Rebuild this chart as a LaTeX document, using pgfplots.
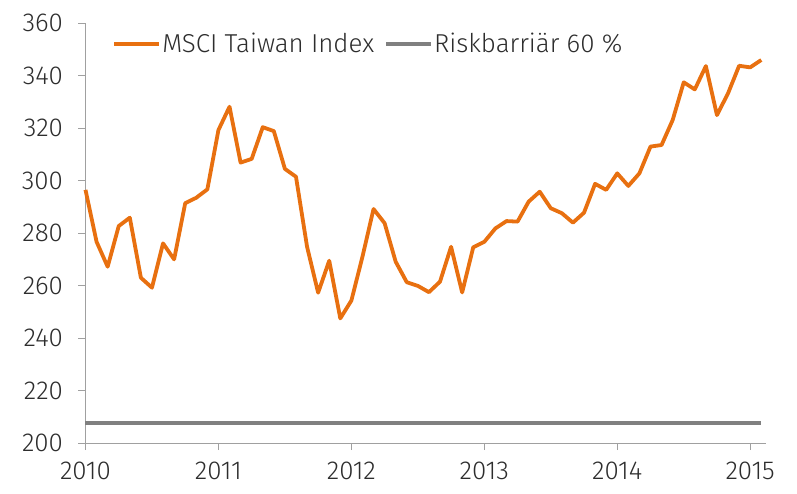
\documentclass[border=0pt]{standalone}
\usepackage{fontspec}
\setmainfont{Fira Sans Light}
\usepackage{pgfplots}
\pgfplotsset{compat=1.18}
\definecolor{msci}{RGB}{232,112,16}
\definecolor{barr}{RGB}{128,128,128}
\definecolor{axisgray}{RGB}{160,160,160}
\definecolor{txt}{RGB}{45,45,45}
\begin{document}
\begin{tikzpicture}
\begin{axis}[
  scale only axis,
  width=680.2bp, height=419.7bp,
  xmin=0, xmax=61.4,
  ymin=200, ymax=360,
  ytick={200,220,...,360},
  xtick={0,12,24,36,48,60},
  xticklabels={2010,2011,2012,2013,2014,2015},
  axis x line*=bottom, axis y line*=left,
  axis line style={axisgray, line width=0.8bp, -},
  tick style={axisgray, line width=0.8bp},
  tick align=outside,
  major tick length=7bp,
  /pgf/number format/assume math mode=true,
  /pgf/number format/1000 sep={},
  tick label style={font=\fontsize{26}{30}\selectfont, text=txt},
  yticklabel style={xshift=-12bp},
  xticklabel style={yshift=-8bp},
  legend style={draw=none, fill=none, at={(0.035,0.951)}, anchor=west,
    font=\fontsize{26}{30}\selectfont, text=txt,
    nodes={inner sep=1bp},
    /tikz/every even column/.append style={column sep=9bp}},
  legend columns=-1,
  legend image code/.code={\draw[#1] (0bp,0bp) -- (45bp,0bp);},
  clip=false,
]
\addplot[msci, line width=3.8bp, line join=round] coordinates {
(0,296.5)(1,276.7)(2,267.2)(3,282.7)(4,285.9)(5,263.0)(6,259.2)(7,276.1)(8,270.0)(9,291.4)
(10,293.5)(11,296.7)(12,319.3)(13,328.2)(14,306.9)(15,308.3)(16,320.4)(17,318.9)(18,304.5)(19,301.5)
(20,274.8)(21,257.3)(22,269.5)(23,247.5)(24,254.3)(25,271.0)(26,289.2)(27,283.8)(28,269.1)(29,261.3)
(30,259.9)(31,257.5)(32,261.5)(33,274.8)(34,257.4)(35,274.6)(36,276.7)(37,281.8)(38,284.6)(39,284.4)
(40,292.0)(41,295.8)(42,289.5)(43,287.6)(44,284.0)(45,287.8)(46,298.8)(47,296.5)(48,302.8)(49,298.0)
(50,302.8)(51,313.0)(52,313.6)(53,323.1)(54,337.5)(55,334.8)(56,343.7)(57,325.0)(58,333.3)(59,343.8)
(60,343.2)(61,346.0)};
\addlegendentry{MSCI Taiwan Index}
\addplot[barr, line width=3.8bp] coordinates {(0,207.5)(61,207.5)};
\addlegendentry{Riskbarriär 60 \%}
\end{axis}
\pgfresetboundingbox
\useasboundingbox (-85.5bp,-51bp) rectangle (711.5bp,443bp);
\end{tikzpicture}
\end{document}
